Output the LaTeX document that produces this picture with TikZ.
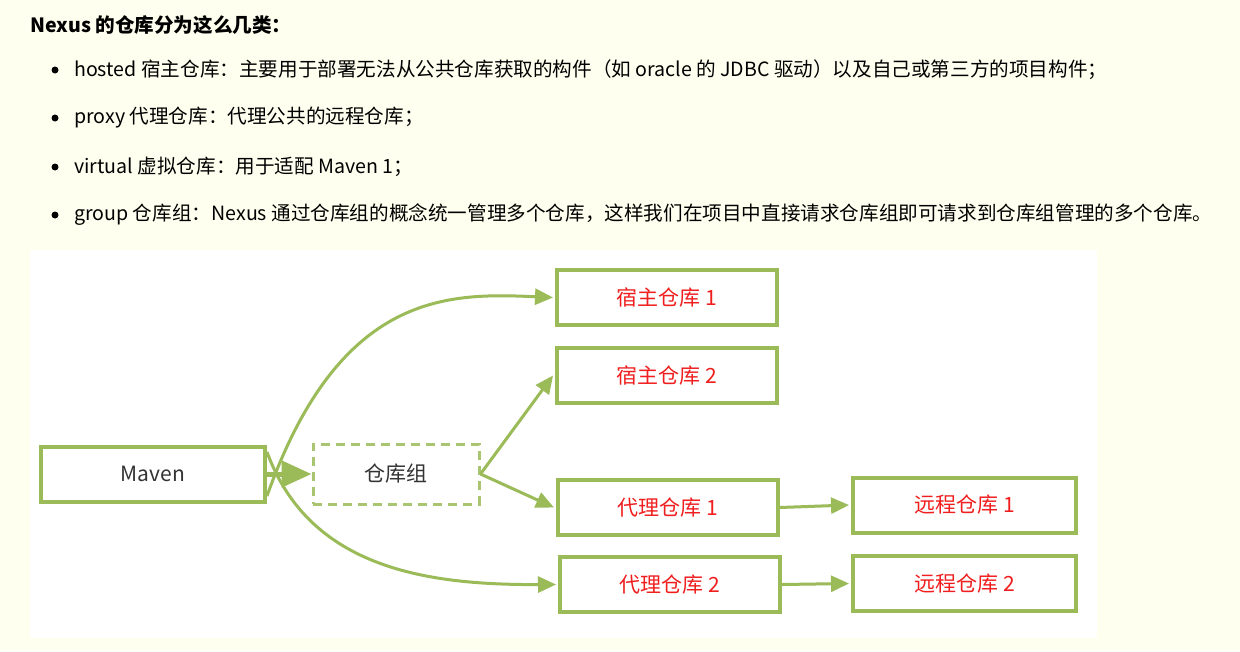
\documentclass[tikz,border=0pt]{standalone}
\usepackage{fontspec}
\setmainfont{Noto Sans CJK SC}
\usetikzlibrary{arrows.meta}
\definecolor{gr}{HTML}{9BBB59}
\definecolor{bg}{HTML}{FFFFF0}
\definecolor{rd}{HTML}{F01E1E}
\begin{document}
\begin{tikzpicture}[x=1pt,y=-1pt,
  box/.style={draw=gr,line width=4pt,minimum width=220pt,minimum height=55pt,inner sep=0pt,font=\fontsize{21}{24}\selectfont,text=rd},
  conn/.style={draw=gr,line width=3pt,-{Triangle[length=18pt,width=16pt]}},
  txt/.style={anchor=west,inner sep=0pt,font=\fontsize{19.6}{22}\selectfont},
  bul/.style={circle,fill=black,inner sep=0pt,minimum size=7pt}]
\fill[bg] (0,0) rectangle (1240,651);
\useasboundingbox (0,0) rectangle (1240,651);
\fill[white] (30,250) rectangle (1097,638);
\node[txt,font=\fontsize{19.6}{22}\selectfont\bfseries] (title) at (30,25) {Nexus 的仓库分为这么几类：};
\node[bul] (b1) at (55,70) {}; \node[txt] (t1) at (74,70) {hosted 宿主仓库：主要用于部署无法从公共仓库获取的构件（如 oracle 的 JDBC 驱动）以及自己或第三方的项目构件；};
\node[bul] (b2) at (55,118) {}; \node[txt] (t2) at (74,118) {proxy 代理仓库：代理公共的远程仓库；};
\node[bul] (b3) at (55,167) {}; \node[txt] (t3) at (74,167) {virtual 虚拟仓库：用于适配 Maven 1；};
\node[bul] (b4) at (55,215) {}; \node[txt] (t4) at (74,215) {group 仓库组：Nexus 通过仓库组的概念统一管理多个仓库，这样我们在项目中直接请求仓库组即可请求到仓库组管理的多个仓库。};
\node[box,text=black!80,minimum width=224pt] (maven) at (153,474) {Maven};
\node[box,text=black!80,minimum width=166pt,minimum height=60pt,dashed,dash pattern=on 9pt off 6pt,line width=3pt,draw=gr!85] (grp) at (396,474) {仓库组};
\node[box] (h1) at (667,297.5) {宿主仓库 1};
\node[box] (h2) at (667,375.5) {宿主仓库 2};
\node[box] (p1) at (668,507.5) {代理仓库 1};
\node[box] (p2) at (670,584.5) {代理仓库 2};
\node[box,minimum width=223pt] (r1) at (964.5,505) {远程仓库 1};
\node[box,minimum width=223pt] (r2) at (964.5,583.5) {远程仓库 2};
\draw[conn] ([yshift=-22pt]maven.east) .. controls (340,290) and (450,293) .. ([xshift=-2pt]h1.west);
\draw[conn] ([yshift=22pt]maven.east) .. controls (310,570) and (430,585) .. ([xshift=-2pt]p2.west);
\draw[conn,line width=5pt,-{Triangle[length=30pt,width=26pt]}] (maven.east) -- (grp.west);
\draw[conn] (grp.east) -- ([xshift=-2pt]h2.west);
\draw[conn] (grp.east) -- ([xshift=-2pt]p1.west);
\draw[conn] (p1.east) -- ([xshift=-2pt]r1.west);
\draw[conn] (p2.east) -- ([xshift=-2pt]r2.west);
\end{tikzpicture}
\end{document}
